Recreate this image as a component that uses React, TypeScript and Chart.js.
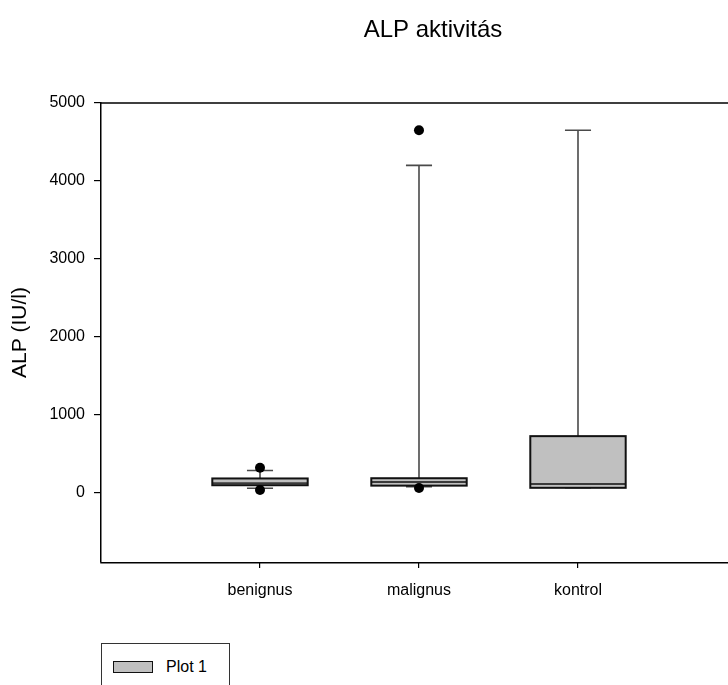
import React, { useEffect, useRef } from "react";
import { Chart, registerables } from "chart.js";

Chart.register(...registerables);

const chartTitle = "ALP aktivitás";
const yAxisTitle = "ALP (IU/l)";
const legendLabel = "Plot 1";
const categories = ["benignus", "malignus", "kontrol"];
const positions = [1, 2, 3];
const whiskerLow = [56, 75, 62];
const q1 = [95, 90, 62];
const median = [120, 135, 112];
const q3 = [182, 185, 725];
const whiskerHigh = [285, 4200, 4650];
const outliers: number[][] = [[320, 35], [4650, 60], []];
const yTicks = [0, 1000, 2000, 3000, 4000, 5000];
const yMin = -890;
const yMax = 5000;
const xMin = 0;
const xMax = 3.912;

const FONT = 'Arial, "Liberation Sans", sans-serif';

const boxPlugin = {
  id: "boxPlugin",
  beforeDatasetsDraw(chart: any) {
    const ctx = chart.ctx;
    const xs = chart.scales.x;
    const ys = chart.scales.y;
    const halfBox = 0.3;
    const halfCap = 0.082;
    ctx.save();
    positions.forEach((p, i) => {
      const xl = xs.getPixelForValue(p - halfBox);
      const xr = xs.getPixelForValue(p + halfBox);
      const xc = xs.getPixelForValue(p);
      const cl = xs.getPixelForValue(p - halfCap);
      const cr = xs.getPixelForValue(p + halfCap);
      const yq1 = ys.getPixelForValue(q1[i]);
      const yq3 = ys.getPixelForValue(q3[i]);
      const ymed = ys.getPixelForValue(median[i]);
      const ylo = ys.getPixelForValue(whiskerLow[i]);
      const yhi = ys.getPixelForValue(whiskerHigh[i]);
      ctx.strokeStyle = "#4a4a4a";
      ctx.lineWidth = 1.6;
      ctx.beginPath();
      ctx.moveTo(xc, yq3);
      ctx.lineTo(xc, yhi);
      ctx.moveTo(cl, yhi);
      ctx.lineTo(cr, yhi);
      ctx.moveTo(xc, yq1);
      ctx.lineTo(xc, ylo);
      ctx.moveTo(cl, ylo);
      ctx.lineTo(cr, ylo);
      ctx.stroke();
      ctx.fillStyle = "#c0c0c0";
      ctx.fillRect(xl, yq3, xr - xl, yq1 - yq3);
      ctx.strokeStyle = "#3a3a3a";
      ctx.lineWidth = 2;
      ctx.beginPath();
      ctx.moveTo(xl, ymed);
      ctx.lineTo(xr, ymed);
      ctx.stroke();
      ctx.strokeStyle = "#111";
      ctx.lineWidth = 2;
      ctx.strokeRect(xl, yq3, xr - xl, yq1 - yq3);
    });
    ctx.restore();
  },
  afterDraw(chart: any) {
    const ctx = chart.ctx;
    const a = chart.chartArea;
    ctx.save();
    ctx.strokeStyle = "#000";
    ctx.lineWidth = 1.5;
    ctx.beginPath();
    ctx.moveTo(a.left, a.top);
    ctx.lineTo(chart.width, a.top);
    ctx.moveTo(a.left - 0.75, a.bottom + 0.75);
    ctx.lineTo(chart.width, a.bottom + 0.75);
    ctx.stroke();
    ctx.fillStyle = "#000";
    ctx.font = `24px ${FONT}`;
    ctx.textAlign = "center";
    ctx.textBaseline = "middle";
    ctx.fillText(chartTitle, 433, 30);
    ctx.restore();
  },
};

export default function App() {
  const ref = useRef<HTMLCanvasElement | null>(null);
  useEffect(() => {
    document.body.style.margin = "0";
    document.documentElement.style.overflow = "hidden";
    if (!ref.current) return;
    const outlierPoints: { x: number; y: number }[] = [];
    outliers.forEach((list, i) => list.forEach((v) => outlierPoints.push({ x: positions[i], y: v })));
    const chart = new Chart(ref.current, {
      type: "scatter",
      data: {
        datasets: [
          {
            label: legendLabel,
            data: outlierPoints,
            pointRadius: 5,
            pointBackgroundColor: "#000",
            pointBorderWidth: 0,
            backgroundColor: "#000",
          },
        ],
      },
      plugins: [boxPlugin],
      options: {
        animation: false,
        responsive: false,
        layout: { padding: { top: 103, left: 0, right: 0, bottom: 0 } },
        plugins: { legend: { display: false }, tooltip: { enabled: false }, title: { display: false } },
        scales: {
          x: {
            type: "linear",
            min: xMin,
            max: xMax,
            afterBuildTicks: (s: any) => {
              s.ticks = positions.map((v) => ({ value: v }));
            },
            afterFit: (s: any) => {
              s.height = 123;
              s.paddingLeft = 0;
              s.paddingRight = 0;
            },
            border: { display: false },
            grid: { display: true, drawOnChartArea: false, drawTicks: true, tickLength: 6, color: "#000", lineWidth: 1.2 },
            ticks: {
              color: "#000",
              font: { family: FONT, size: 16 },
              padding: 13,
              maxRotation: 0,
              autoSkip: false,
              callback: (v: any) => {
                const idx = positions.indexOf(Number(v));
                return idx >= 0 ? categories[idx] : "";
              },
            },
          },
          y: {
            type: "linear",
            min: yMin,
            max: yMax,
            afterBuildTicks: (s: any) => {
              s.ticks = yTicks.map((v) => ({ value: v }));
            },
            afterFit: (s: any) => {
              s.width = 101;
              s.paddingTop = 0;
              s.paddingBottom = 0;
            },
            border: { display: true, color: "#000", width: 1.5 },
            grid: { display: true, drawOnChartArea: false, drawTicks: true, tickLength: 7, color: "#000", lineWidth: 1.2 },
            ticks: {
              color: "#000",
              font: { family: FONT, size: 16 },
              padding: 9,
              autoSkip: false,
              callback: (v: any) => String(v),
            },
            title: {
              display: true,
              text: yAxisTitle,
              color: "#000",
              font: { family: FONT, size: 21 },
              padding: { top: 8, bottom: 0 },
            },
          },
        },
      },
    });
    return () => chart.destroy();
  }, []);

  return (
    <div style={{ position: "relative", width: 728, height: 685, overflow: "hidden" }}>
      <canvas ref={ref} width={728} height={685} style={{ display: "block", width: 728, height: 685 }} />
      <div
        style={{
          position: "absolute",
          left: 101,
          top: 643,
          width: 127,
          height: 60,
          border: "1px solid #333",
          background: "#fff",
          fontFamily: FONT,
          fontSize: 16,
        }}
      >
        <div
          style={{
            position: "absolute",
            left: 11,
            top: 17,
            width: 38,
            height: 10,
            background: "#c0c0c0",
            border: "1.5px solid #111",
          }}
        />
        <div style={{ position: "absolute", left: 64, top: 14, lineHeight: "18px", color: "#000" }}>{legendLabel}</div>
      </div>
    </div>
  );
}
